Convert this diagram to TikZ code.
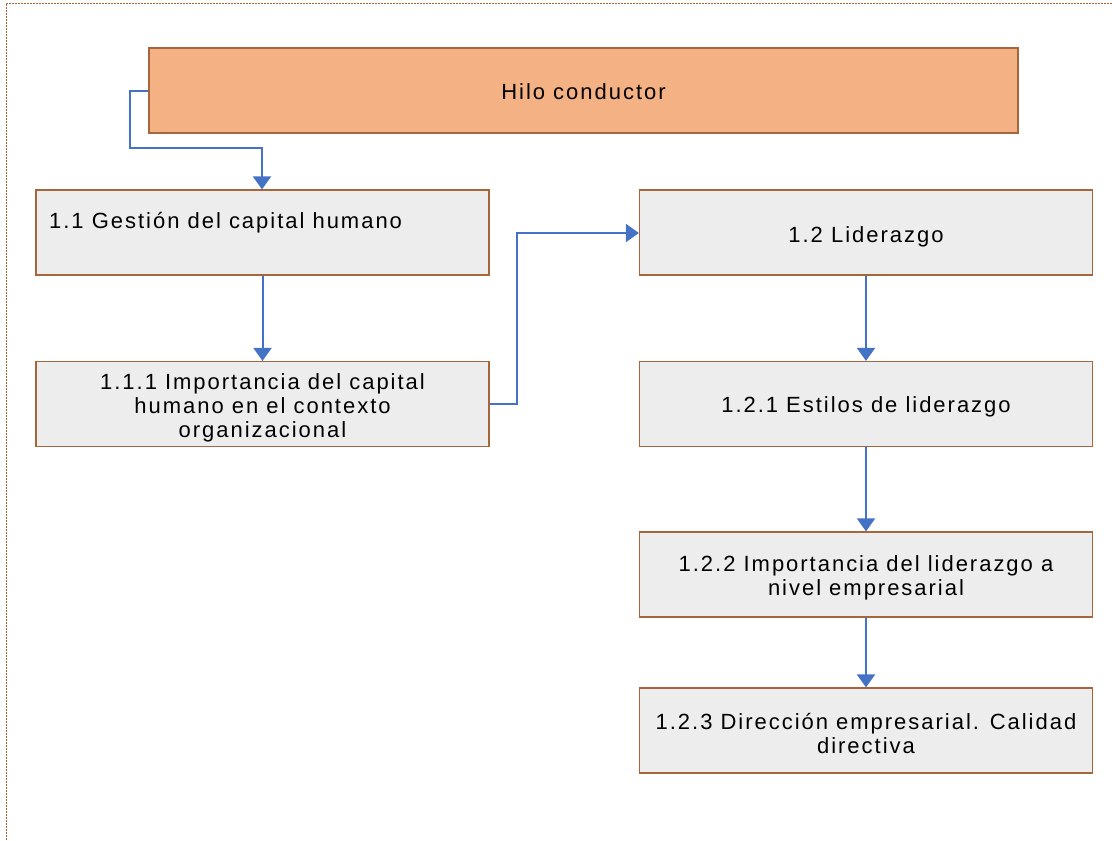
\documentclass[tikz,border=0pt]{standalone}
\usepackage{fontspec}
\setmainfont{Liberation Sans}[LetterSpace=9]
\usetikzlibrary{arrows.meta}
\definecolor{orangefill}{HTML}{F4B183}
\definecolor{greyfill}{HTML}{EDEDED}
\definecolor{boxborder}{HTML}{A5663B}
\definecolor{arrowblue}{HTML}{4472C4}
\tikzset{
  x=1pt, y=-1pt,
  boxfont/.style={font=\fontsize{22}{24}\selectfont},
  box/.style={draw=boxborder, line width=1.2pt, fill=greyfill, minimum width=453pt, minimum height=85pt, inner sep=0pt},
  topbox/.style={box, fill=orangefill, minimum width=869pt},
  txt/.style={inner sep=0pt, boxfont, align=center},
  conn/.style={draw=arrowblue, line width=2pt, -{Triangle[width=18pt,length=13pt]}},
}
\begin{document}
\begin{tikzpicture}
\useasboundingbox (0,0) rectangle (1112,841);
\begin{scope}
\clip (0,0) rectangle (1112,841);
\draw[boxborder, dashed, dash pattern=on 2pt off 1pt, line width=1pt] (6,900) -- (6,3) -- (1200,3);
\end{scope}
\node[topbox] (hilo) at (583.5,90.5) {};
\node[txt] (hilot) at ([yshift=-1pt]hilo.center) {Hilo conductor};
\node[box] (g11) at (262.5,232.5) {};
\node[txt, anchor=west] (g11t) at (49,223) {1.1 Gestión del capital humano};
\node[box] (g111) at (262.5,404) {};
\node[txt] (g111t) at ([yshift=-4pt]g111.center) {1.1.1 Importancia del capital\\humano en el contexto\\organizacional};
\node[box] (l12) at (866,232.5) {};
\node[txt] (l12t) at ([yshift=-4pt]l12.center) {1.2 Liderazgo};
\node[box] (l121) at (866,404) {};
\node[txt] (l121t) at ([yshift=-3pt]l121.center) {1.2.1 Estilos de liderazgo};
\node[box] (l122) at (866,574.5) {};
\node[txt] (l122t) at ([yshift=-3pt]l122.center) {1.2.2 Importancia del liderazgo a\\nivel empresarial};
\node[box] (l123) at (866,730.5) {};
\node[txt] (l123t) at ([yshift=-3pt]l123.center) {1.2.3 Dirección empresarial. Calidad\\directiva};
\coordinate (c1) at (130,91);
\coordinate (c2) at (130,148);
\coordinate (c3) at (262,148);
\coordinate (c4) at (517,404);
\coordinate (c5) at (517,233);
\draw[conn] (hilo.west |- c1) -- (c1) -- (c2) -- (c3) -- (g11.north -| c3);
\draw[conn] (g11.south) -- (g111.north);
\draw[conn] (g111.east) -- (c4) -- (c5) -- (l12.west |- c5);
\draw[conn] (l12.south) -- (l121.north);
\draw[conn] (l121.south) -- (l122.north);
\draw[conn] (l122.south) -- (l123.north);
\end{tikzpicture}
\end{document}
